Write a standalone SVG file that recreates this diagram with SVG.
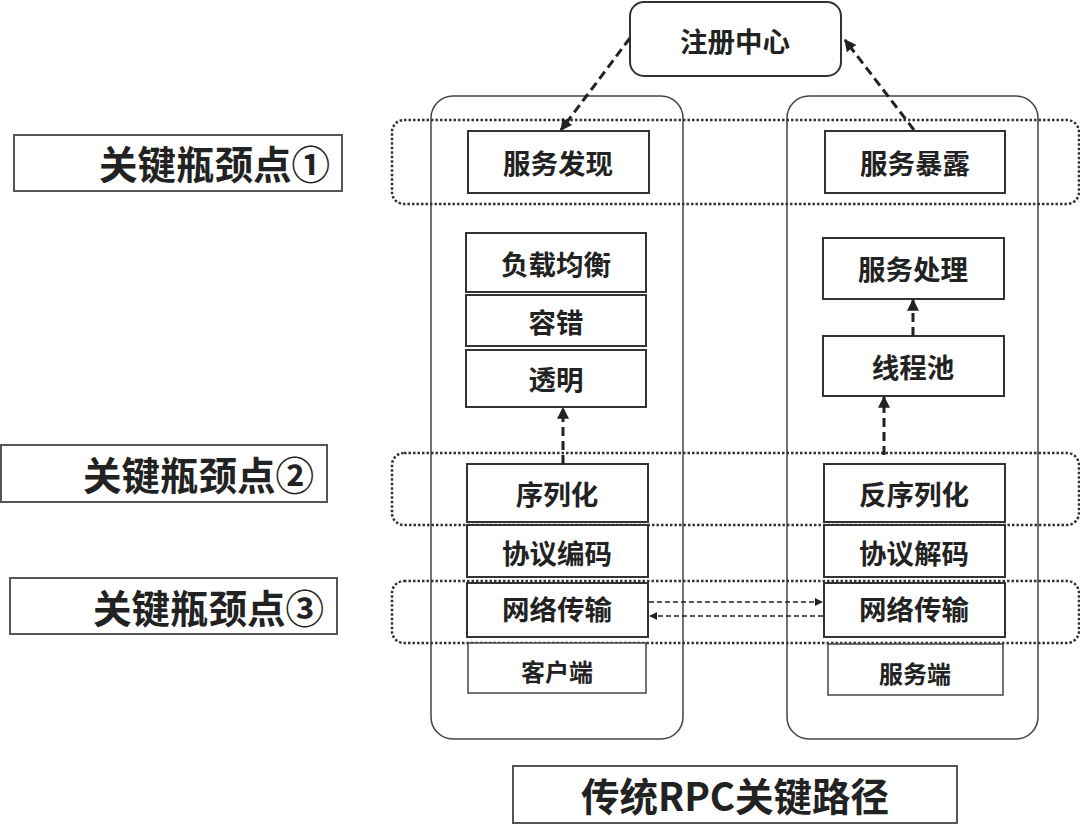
<svg xmlns="http://www.w3.org/2000/svg" width="1080" height="840" viewBox="0 0 1080 840">
<defs>
<marker id="ah" viewBox="0 0 10 10" refX="9" refY="5" markerWidth="4" markerHeight="4" orient="auto" markerUnits="strokeWidth"><path d="M0,0 L10,5 L0,10 z" fill="#222"/></marker>
<marker id="ahs" viewBox="0 0 10 10" refX="9" refY="5" markerWidth="5" markerHeight="5" orient="auto" markerUnits="strokeWidth"><path d="M0,0 L10,5 L0,10 z" fill="#222"/></marker>
<style>
text{font-family:"Noto Sans CJK SC","Noto Sans",sans-serif;font-weight:700;fill:#222;text-anchor:middle;dominant-baseline:central}
.box{fill:#fff;stroke:#333;stroke-width:2}
.thin{fill:#fff;stroke:#444;stroke-width:1.5}
.cont{fill:none;stroke:#444;stroke-width:1.5}
.band{fill:none;stroke:#333;stroke-width:2.5;stroke-dasharray:2.5 2}
.lbl{fill:#fff;stroke:#555;stroke-width:2}
.t26{font-size:27.5px}
.t22{font-size:24px}
.t37{font-size:38.5px;text-anchor:end}
.conn{fill:none;stroke:#222;stroke-width:3;stroke-dasharray:9 5}
.conn2{fill:none;stroke:#222;stroke-width:1.6;stroke-dasharray:5 3}
</style>
</defs>
<rect width="1080" height="840" fill="#fff"/>

<g id="client-container"><rect class="cont" x="431" y="96" width="252" height="643" rx="22"/></g>
<g id="server-container"><rect class="cont" x="787" y="96" width="251" height="643" rx="22"/></g>

<g id="registry"><rect class="box" x="630" y="2" width="211" height="74" rx="14"/><text class="t26" x="735" y="40">注册中心</text></g>

<g id="band1"><rect class="band" x="392" y="120" width="687" height="84" rx="12"/></g>
<g id="band2"><rect class="band" x="392" y="453" width="687" height="72" rx="12"/></g>
<g id="band3"><rect class="band" x="392" y="581" width="687" height="62" rx="12"/></g>

<g id="discover"><rect class="box" x="468" y="131" width="181" height="62"/><text class="t26" x="558" y="162">服务发现</text></g>
<g id="expose"><rect class="box" x="825" y="131" width="180" height="62"/><text class="t26" x="915" y="162">服务暴露</text></g>

<g id="lb"><rect class="box" x="466" y="233" width="180" height="59"/><text class="t26" x="556" y="263">负载均衡</text></g>
<g id="ft"><rect class="box" x="466" y="295" width="180" height="51"/><text class="t26" x="556" y="321">容错</text></g>
<g id="tr"><rect class="box" x="466" y="350" width="180" height="57"/><text class="t26" x="556" y="378">透明</text></g>

<g id="handle"><rect class="box" x="823" y="238" width="181" height="61"/><text class="t26" x="913" y="268">服务处理</text></g>
<g id="pool"><rect class="box" x="823" y="336" width="181" height="60"/><text class="t26" x="913" y="366">线程池</text></g>

<g id="ser"><rect class="box" x="467" y="464" width="181" height="58"/><text class="t26" x="557" y="493">序列化</text></g>
<g id="enc"><rect class="box" x="467" y="525" width="181" height="52"/><text class="t26" x="557" y="552">协议编码</text></g>
<g id="net1"><rect class="box" x="467" y="583" width="181" height="54"/><text class="t26" x="557" y="608">网络传输</text></g>
<g id="client"><rect class="thin" x="468" y="643" width="178" height="50"/><text class="t22" x="557" y="670">客户端</text></g>

<g id="deser"><rect class="box" x="824" y="464" width="181" height="58"/><text class="t26" x="914" y="493">反序列化</text></g>
<g id="dec"><rect class="box" x="824" y="525" width="181" height="52"/><text class="t26" x="914" y="552">协议解码</text></g>
<g id="net2"><rect class="box" x="824" y="583" width="181" height="54"/><text class="t26" x="914" y="608">网络传输</text></g>
<g id="server"><rect class="thin" x="828" y="644" width="175" height="51"/><text class="t22" x="915" y="672">服务端</text></g>

<g id="label1"><rect class="lbl" x="14" y="135" width="328" height="56"/><text class="t37" x="330" y="162">关键瓶颈点①</text></g>
<g id="label2"><rect class="lbl" x="1" y="445" width="326" height="57"/><text class="t37" x="314" y="473">关键瓶颈点②</text></g>
<g id="label3"><rect class="lbl" x="10" y="578" width="327" height="56"/><text class="t37" x="324" y="606">关键瓶颈点③</text></g>

<g id="title"><rect class="lbl" x="513" y="766" width="444" height="57"/><text x="735" y="794" style="font-size:38.5px">传统RPC关键路径</text></g>

<g id="connectors">
<line class="conn" x1="630" y1="38" x2="561" y2="130" marker-end="url(#ah)"/>
<line class="conn" x1="914" y1="130" x2="845" y2="40" marker-end="url(#ah)"/>
<line class="conn" x1="563" y1="464" x2="563" y2="408" marker-end="url(#ah)"/>
<line class="conn" x1="884" y1="455" x2="884" y2="397" marker-end="url(#ah)"/>
<line class="conn" x1="913" y1="336" x2="913" y2="300" marker-end="url(#ah)"/>
<line class="conn2" x1="649" y1="602" x2="822" y2="602" marker-end="url(#ahs)"/>
<line class="conn2" x1="823" y1="616" x2="650" y2="616" marker-end="url(#ahs)"/>
</g>
</svg>
